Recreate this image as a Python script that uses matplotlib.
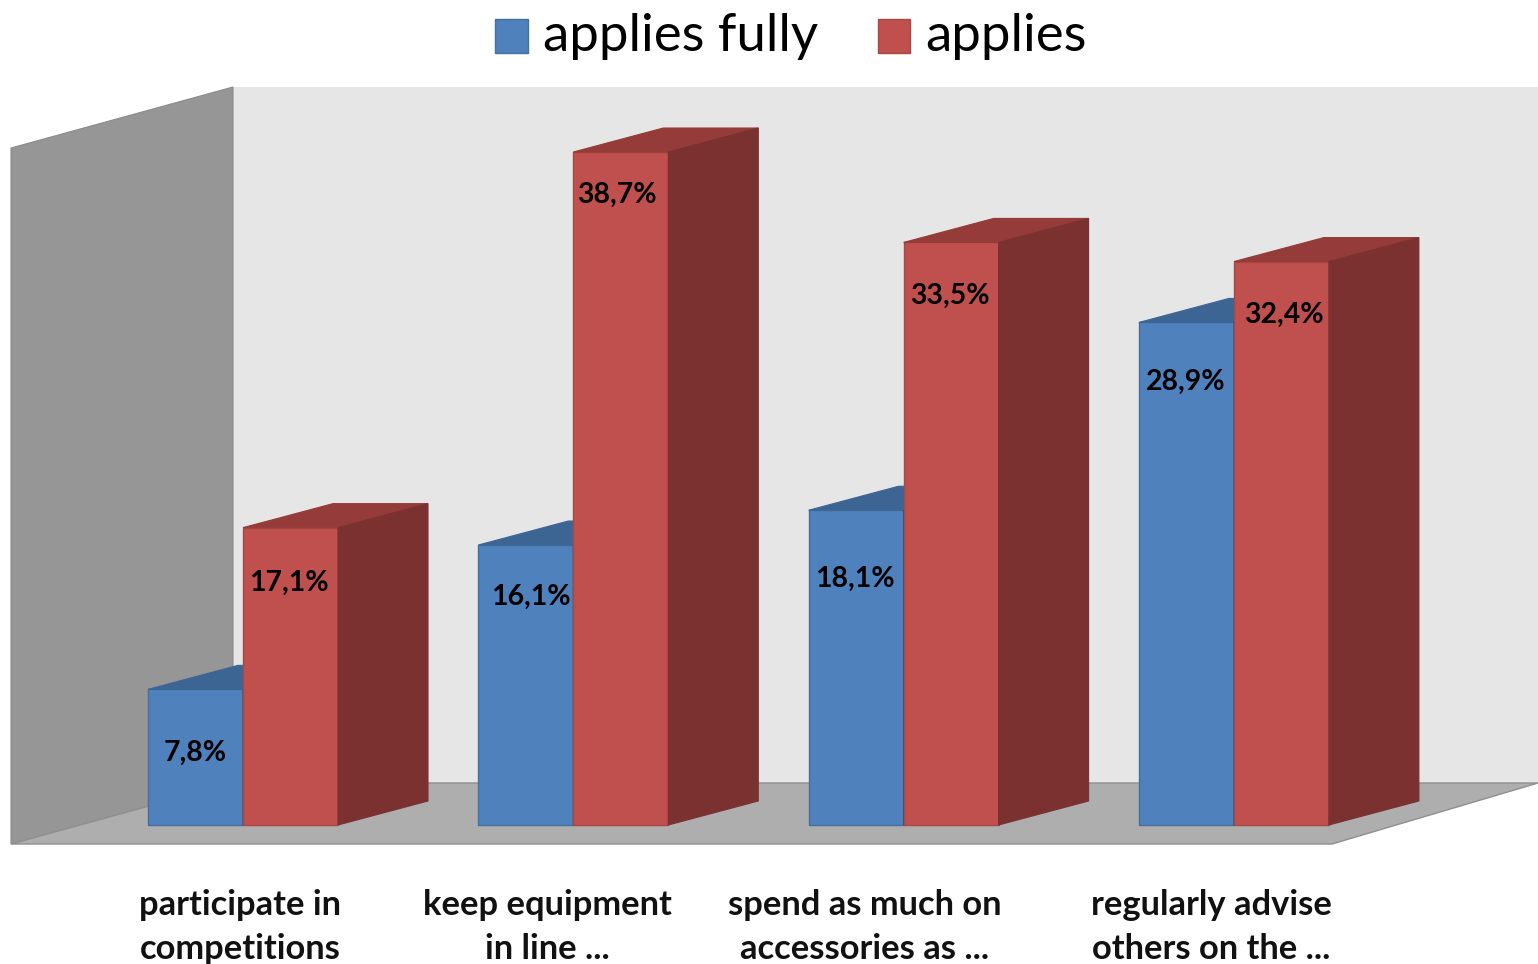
"""Barras 3D falsas: applies fully x applies."""
import matplotlib

matplotlib.use("Agg")
import matplotlib.pyplot as plt
from matplotlib.patches import Polygon, Patch

plt.rcParams["font.family"] = ["Lato", "DejaVu Sans"]

W, H = 1538, 964
FONT = "Lato"

categorias = ["participate in\ncompetitions", "keep equipment\nin line ...",
              "spend as much on\naccessories as ...", "regularly advise\nothers on the ..."]
applies_fully = [7.8, 16.1, 18.1, 28.9]
applies = [17.1, 38.7, 33.5, 32.4]
nome_series = ["applies fully", "applies"]

# escala da figura: px por unidade
PX_X = 330.3
PX_Y = 17.39
X0 = 243
Y0 = 825
BAR_W = 95 / PX_X
DX = 90 / PX_X
DY = 24 / PX_Y

COL_BLUE = ("#4f81bd", "#3d6594", "#2f5078", "#44709f")
COL_RED = ("#c0504d", "#953b39", "#7a3130", "#a84845")

# posicao dos rotulos em px (x centro, y centro)
LBL_BLUE = [(195, 753), (531, 597), (855, 579), (1186, 382)]
LBL_RED = [(289, 583), (617, 195), (950, 296), (1284, 315)]
LBL_CAT_X = [240, 547, 865, 1211]


def barra(ax, x, v, cols):
    front, top, side, edge = cols
    ax.bar(x, v, BAR_W, align="edge", color=front, edgecolor=edge, lw=1.0, zorder=3)
    ax.add_patch(Polygon([(x, v), (x + DX, v + DY), (x + BAR_W + DX, v + DY), (x + BAR_W, v)],
                         closed=True, fc=top, ec=top, lw=0.8, zorder=3))
    ax.add_patch(Polygon([(x + BAR_W, 0), (x + BAR_W + DX, DY), (x + BAR_W + DX, v + DY), (x + BAR_W, v)],
                         closed=True, fc=side, ec=side, lw=0.8, zorder=3))


def main():
    fig = plt.figure(figsize=(W / 100, H / 100), dpi=100, facecolor="white")

    # fundo em coordenadas de pixel
    bg = fig.add_axes([0, 0, 1, 1])
    bg.set_xlim(0, W)
    bg.set_ylim(H, 0)
    bg.axis("off")
    bg.add_patch(Polygon([(233, 87), (W, 87), (W, 783), (233, 783)], fc="#e6e6e6", ec="none"))
    bg.add_patch(Polygon([(11, 148), (233, 87), (233, 783), (11, 844)], fc="#969696", ec="#8a8a8a", lw=0.8))
    bg.add_patch(Polygon([(11, 844), (233, 783), (W, 783), (1332, 844)], fc="#aeaeae", ec="#8f8f8f", lw=1.0))

    ax = fig.add_axes([0, 0, 1, 1])
    ax.set_xlim(-X0 / PX_X, (W - X0) / PX_X)
    ax.set_ylim(-(H - Y0) / PX_Y, Y0 / PX_Y)
    ax.axis("off")
    ax.patch.set_alpha(0)

    for i in range(len(categorias)):
        barra(ax, i - BAR_W, applies_fully[i], COL_BLUE)
        barra(ax, i, applies[i], COL_RED)

    # rotulos por cima de tudo
    top = fig.add_axes([0, 0, 1, 1])
    top.set_xlim(0, W)
    top.set_ylim(H, 0)
    top.axis("off")
    top.patch.set_alpha(0)
    for (x, y), v in zip(LBL_BLUE, applies_fully):
        top.text(x, y, f"{v:.1f}%".replace(".", ","), ha="center", va="center",
                 fontsize=20.4, fontweight="bold", color="black", family=FONT)
    for (x, y), v in zip(LBL_RED, applies):
        top.text(x, y, f"{v:.1f}%".replace(".", ","), ha="center", va="center",
                 fontsize=20.4, fontweight="bold", color="black", family=FONT)
    for x, c in zip(LBL_CAT_X, categorias):
        l1, l2 = c.split("\n")
        top.text(x, 905, l1, ha="center", va="center", fontsize=24.8, fontweight="bold", family=FONT, color="#111111")
        top.text(x, 949, l2, ha="center", va="center", fontsize=24.8, fontweight="bold", family=FONT, color="#111111")

    handles = [Patch(fc=COL_BLUE[0], ec=COL_BLUE[3]), Patch(fc=COL_RED[0], ec=COL_RED[3])]
    leg = fig.legend(handles, nome_series, loc="center", bbox_to_anchor=(791 / W, 1 - 36 / H), ncol=2,
                     frameon=False, handlelength=0.62, handleheight=0.62,
                     handletextpad=0.28, columnspacing=1.13, prop={"family": FONT, "size": 38})
    # quadradinhos um pouco mais baixos que o padrao da legenda
    for p in leg.get_patches():
        p.set_y(p.get_y() - 3.2)

    fig.savefig("out.png", dpi=100)
    plt.close(fig)


if __name__ == "__main__":
    main()
